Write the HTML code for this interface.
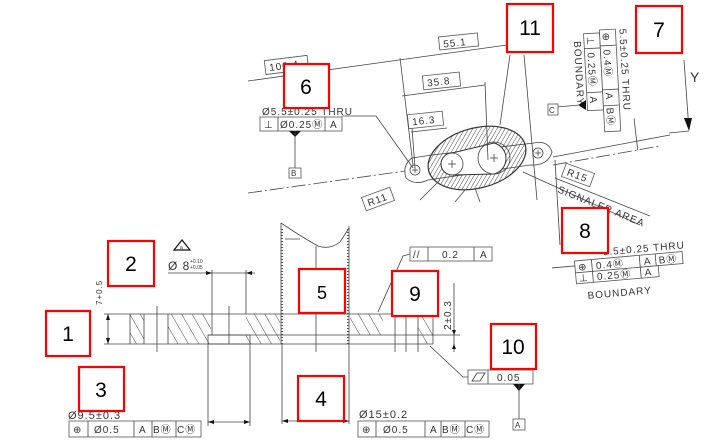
<!DOCTYPE html>
<html><head><meta charset="utf-8">
<style>
html,body{margin:0;padding:0;background:#fff;}
svg{display:block;}
text{font-family:"Liberation Sans",sans-serif;fill:#333;}
.t{font-size:10px;letter-spacing:1px;}
.ln{stroke:#444;stroke-width:0.8;fill:none;}
.fc{stroke:#555;stroke-width:0.8;fill:#fff;}
.rb{stroke:#f00;stroke-width:2.2;fill:#fff;}
.num{font-size:21px;fill:#000;text-anchor:middle;}
</style></head>
<body>
<svg width="720" height="448" viewBox="0 0 720 448" xmlns="http://www.w3.org/2000/svg">
<defs>
<pattern id="hatch" patternUnits="userSpaceOnUse" width="9" height="9" patternTransform="rotate(-30)">
<line x1="0" y1="0" x2="0" y2="9" stroke="#333" stroke-width="0.9"/>
</pattern>
<pattern id="hatch2" patternUnits="userSpaceOnUse" width="3.5" height="3.5" patternTransform="rotate(45)">
<line x1="0" y1="0" x2="0" y2="3.5" stroke="#333" stroke-width="0.9"/>
</pattern>
</defs>

<g>
<line class="ln" x1="248" y1="81" x2="507" y2="45"/>
<line class="ln" x1="553" y1="157" x2="670" y2="135"/>
<line class="ln" x1="553" y1="165" x2="660" y2="146" stroke-dasharray="14 3 2 3"/>
<line class="ln" x1="248" y1="193" x2="405" y2="171" stroke-dasharray="14 3 2 3"/>
<path class="ln" d="M412,158 Q402,165 406,178 Q415,186 428,180 L530,165 Q548,166 552,152 Q548,140 534,143 L432,155 Z"/>
<ellipse cx="477" cy="158" rx="50" ry="30" transform="rotate(-15 477 158)" fill="url(#hatch2)" stroke="#333" stroke-width="1.2"/>
<path d="M452,153 L494,143 A16,16 0 0 1 494,174 L452,175 A11,11 0 0 1 452,153 Z" fill="#fff" stroke="#333" stroke-width="1"/>
<circle cx="452" cy="164" r="11" class="ln" stroke-width="1.1"/>
<circle cx="494" cy="158" r="16" class="ln" stroke-width="1.1"/>
<circle cx="415" cy="170" r="5" class="ln"/>
<circle cx="538" cy="153" r="5" class="ln"/>
<line class="ln" x1="448" y1="164" x2="456" y2="164"/><line class="ln" x1="452" y1="160" x2="452" y2="168"/>
<line class="ln" x1="490" y1="158" x2="498" y2="158"/><line class="ln" x1="494" y1="154" x2="494" y2="162"/>
<line class="ln" x1="412" y1="170" x2="418" y2="170"/><line class="ln" x1="415" y1="167" x2="415" y2="173"/>
<line class="ln" x1="535" y1="153" x2="541" y2="153"/><line class="ln" x1="538" y1="150" x2="538" y2="156"/>
<line class="ln" x1="400" y1="58" x2="413" y2="165"/>
<line class="ln" x1="485" y1="82" x2="488" y2="160"/>
<line class="ln" x1="412" y1="128" x2="415" y2="168"/>
<line class="ln" x1="402" y1="96" x2="485" y2="85"/>
<line class="ln" x1="411" y1="132" x2="447" y2="128"/>
<line class="ln" x1="524" y1="55" x2="537" y2="200"/>
<line class="ln" x1="510" y1="55" x2="500" y2="125"/>
<line class="ln" x1="555" y1="160" x2="560" y2="245"/>
<line class="ln" x1="523" y1="172" x2="640" y2="225"/>
<line class="ln" x1="440" y1="180" x2="420" y2="200"/>
<line class="ln" x1="465" y1="190" x2="455" y2="202"/>
<line class="ln" x1="475" y1="188" x2="480" y2="202"/>
<rect class="fc" x="439" y="35" width="39" height="13" transform="rotate(-6 458 41)"/>
<text class="t" x="443" y="46" transform="rotate(-6 458 41)">55.1</text>
<rect class="fc" x="423" y="74" width="37" height="14" transform="rotate(-6 441 81)"/>
<text class="t" x="427" y="85" transform="rotate(-6 441 81)">35.8</text>
<rect class="fc" x="408" y="113" width="35" height="14" transform="rotate(-6 425 120)"/>
<text class="t" x="412" y="124" transform="rotate(-6 425 120)">16.3</text>
<rect class="fc" x="265" y="58" width="43" height="14" transform="rotate(-7 286 65)"/>
<text class="t" x="269" y="69" transform="rotate(-7 286 65)">100.4</text>
<rect class="fc" x="363" y="192" width="30" height="14" transform="rotate(-20 378 199)"/>
<text class="t" x="367" y="203" transform="rotate(-20 378 199)">R11</text>
<rect class="fc" x="563" y="168" width="30" height="14" transform="rotate(20 578 175)"/>
<text class="t" x="567" y="179" transform="rotate(20 578 175)">R15</text>
<text class="t" x="557" y="192" transform="rotate(22 557 192)">SIGNALER AREA</text>
<line class="ln" x1="555" y1="178" x2="650" y2="216"/>
</g>

<g>
<text class="t" x="262" y="115">Ø5.5±0.25 THRU</text>
<polyline class="ln" points="342,116 376,116 413,168"/>
<rect class="fc" x="260" y="117" width="82" height="14"/>
<line class="ln" x1="278" y1="117" x2="278" y2="131"/><line class="ln" x1="325" y1="117" x2="325" y2="131"/>
<text class="t" x="264" y="128">⊥</text><text class="t" x="280" y="128">Ø0.25Ⓜ</text><text class="t" x="330" y="128">A</text>
<polygon points="289,131 301,131 295,137" fill="#111"/>
<line class="ln" x1="295" y1="131" x2="295" y2="168"/>
<rect class="fc" x="289" y="168" width="12" height="10"/><text class="t" x="291" y="176" style="font-size:8px">B</text>
</g>

<g transform="rotate(-3 600 80)">
<rect class="fc" x="586" y="33" width="16" height="77"/>
<rect class="fc" x="602" y="30" width="16" height="102"/>
<line class="ln" x1="586" y1="48" x2="602" y2="48"/><line class="ln" x1="586" y1="92" x2="602" y2="92"/>
<line class="ln" x1="602" y1="46" x2="618" y2="46"/><line class="ln" x1="602" y1="90" x2="618" y2="90"/><line class="ln" x1="602" y1="106" x2="618" y2="106"/>
<text class="t" transform="translate(589,36) rotate(90)">⊥</text>
<text class="t" transform="translate(589,52) rotate(90)">0.25Ⓜ</text>
<text class="t" transform="translate(589,96) rotate(90)">A</text>
<text class="t" transform="translate(605,33) rotate(90)">⊕</text>
<text class="t" transform="translate(605,50) rotate(90)">0.4Ⓜ</text>
<text class="t" transform="translate(605,93) rotate(90)">A</text>
<text class="t" transform="translate(605,108) rotate(90)">BⓂ</text>
<text class="t" transform="translate(622,30) rotate(90)">5.5±0.25 THRU</text>
<text class="t" transform="translate(576,40) rotate(90)">BOUNDARY</text>
<line class="ln" x1="632" y1="120" x2="634" y2="152"/>
</g>
<polygon points="586,100 586,110 578,105" fill="#111"/>
<line class="ln" x1="556" y1="107" x2="580" y2="105"/>
<rect class="fc" x="548" y="104" width="10" height="11"/><text class="t" x="549" y="113" style="font-size:8px">C</text>
<g>
<line class="ln" x1="684" y1="60" x2="689" y2="130"/>
<polygon points="684,118 692,118 689,131" fill="#111"/>
<line class="ln" x1="669" y1="133" x2="689" y2="131"/>
<text x="690" y="82" style="font-size:14px">Y</text>
</g>

<g transform="rotate(-5 620 265)">
<text class="t" x="604" y="254">5.5±0.25 THRU</text>
<rect class="fc" x="575" y="257" width="108" height="12"/>
<rect class="fc" x="575" y="269" width="83" height="11"/>
<line class="ln" x1="592" y1="257" x2="592" y2="280"/><line class="ln" x1="640" y1="257" x2="640" y2="280"/><line class="ln" x1="656" y1="257" x2="656" y2="269"/>
<text class="t" x="578" y="267">⊕</text><text class="t" x="596" y="267">0.4Ⓜ</text><text class="t" x="644" y="267">A</text><text class="t" x="659" y="267">BⓂ</text>
<text class="t" x="578" y="278">⊥</text><text class="t" x="596" y="278">0.25Ⓜ</text><text class="t" x="644" y="278">A</text>
<text class="t" x="585" y="296">BOUNDARY</text>
<line class="ln" x1="552" y1="262" x2="575" y2="262"/>
</g>

<g>
<rect x="130" y="314" width="14" height="30" fill="url(#hatch)"/>
<rect x="168" y="314" width="43" height="30" fill="url(#hatch)"/>
<rect x="246" y="314" width="34" height="30" fill="url(#hatch)"/>
<rect x="350" y="314" width="33" height="21" fill="url(#hatch)"/>
<rect x="418" y="314" width="15" height="30" fill="url(#hatch)"/>
<line class="ln" x1="104" y1="314" x2="433" y2="314"/>
<line class="ln" x1="104" y1="344" x2="433" y2="344"/>
<line class="ln" x1="208" y1="335" x2="460" y2="335"/>
<line class="ln" x1="130" y1="314" x2="130" y2="344"/>
<line class="ln" x1="144" y1="314" x2="144" y2="344"/>
<line class="ln" x1="168" y1="314" x2="168" y2="344"/>
<line class="ln" x1="433" y1="314" x2="433" y2="344"/>
<rect class="ln" x="208" y="335" width="42" height="9" fill="#fff"/>
<line class="ln" x1="157" y1="306" x2="157" y2="352"/>
<line class="ln" x1="229" y1="306" x2="229" y2="344"/>
<line class="ln" x1="212" y1="270" x2="212" y2="335"/>
<line class="ln" x1="246" y1="270" x2="246" y2="314"/>
<line class="ln" x1="208" y1="344" x2="208" y2="426"/>
<line class="ln" x1="250" y1="344" x2="250" y2="426"/>
<path class="ln" d="M281,223 L281,344 M349,226 L349,344 M285,239 L300,239" />
<path class="ln" d="M281,223 Q300,236 318,246 Q330,250 340,242 L349,228"/>
<line x1="282" y1="229" x2="282" y2="344" stroke="#555" stroke-width="2" stroke-dasharray="1 2"/>
<line x1="348" y1="229" x2="348" y2="344" stroke="#555" stroke-width="2" stroke-dasharray="1 2"/>
<line class="ln" x1="316" y1="246" x2="316" y2="352"/>
<line class="ln" x1="282" y1="344" x2="282" y2="424"/>
<line class="ln" x1="349" y1="344" x2="349" y2="424"/>
<line class="ln" x1="395" y1="314" x2="395" y2="352"/>
<line class="ln" x1="406" y1="314" x2="406" y2="352"/>
<line class="ln" x1="418" y1="314" x2="418" y2="352"/>
<line class="ln" x1="168" y1="273" x2="255" y2="273"/>
<polygon points="212,273 206,271 206,275" fill="#111"/><polygon points="246,273 252,271 252,275" fill="#111"/>
<text class="t" x="168" y="270" style="font-size:12px">Ø 8</text>
<text x="190" y="263" style="font-size:5px">+0.10</text><text x="190" y="269" style="font-size:5px">+0.05</text>
<polygon points="174,250 182,240 190,250" fill="#fff" stroke="#111" stroke-width="1.2"/>
<text x="180" y="249" style="font-size:5px">a</text>
<line class="ln" x1="108" y1="314" x2="108" y2="344"/>
<polygon points="108,314 106,320 110,320" fill="#111"/><polygon points="108,344 106,338 110,338" fill="#111"/>
<text class="t" transform="translate(102,305) rotate(-90)" style="font-size:8px">7+0.5</text>
<line class="ln" x1="208" y1="422" x2="250" y2="422"/>
<polygon points="208,422 214,420 214,424" fill="#111"/><polygon points="250,422 244,420 244,424" fill="#111"/>
<line class="ln" x1="282" y1="421" x2="349" y2="421"/>
<polygon points="282,421 288,419 288,423" fill="#111"/><polygon points="349,421 343,419 343,423" fill="#111"/>
<line class="ln" x1="454" y1="283" x2="454" y2="352"/>
<polygon points="454,335 452,330 456,330" fill="#111"/><polygon points="454,344 452,349 456,349" fill="#111"/>
<text class="t" transform="translate(451,330) rotate(-90)">2±0.3</text>
</g>

<g>
<text class="t" x="68" y="419" style="font-size:11px">Ø9.5±0.3</text>
<rect class="fc" x="69" y="421" width="132" height="16"/>
<line class="ln" x1="88" y1="421" x2="88" y2="437"/><line class="ln" x1="134" y1="421" x2="134" y2="437"/><line class="ln" x1="152" y1="421" x2="152" y2="437"/><line class="ln" x1="176" y1="421" x2="176" y2="437"/>
<text class="t" x="73" y="433">⊕</text><text class="t" x="94" y="433">Ø0.5</text><text class="t" x="139" y="433">A</text><text class="t" x="153" y="433">BⓂ</text><text class="t" x="177" y="433">CⓂ</text>
</g>
<g>
<text class="t" x="359" y="418" style="font-size:11px">Ø15±0.2</text>
<rect class="fc" x="358" y="421" width="131" height="16"/>
<line class="ln" x1="376" y1="421" x2="376" y2="437"/><line class="ln" x1="425" y1="421" x2="425" y2="437"/><line class="ln" x1="441" y1="421" x2="441" y2="437"/><line class="ln" x1="465" y1="421" x2="465" y2="437"/>
<text class="t" x="362" y="433">⊕</text><text class="t" x="383" y="433">Ø0.5</text><text class="t" x="430" y="433">A</text><text class="t" x="442" y="433">BⓂ</text><text class="t" x="466" y="433">CⓂ</text>
</g>
<g>
<polyline class="ln" points="410,254 403,256 378,312"/>
<rect class="fc" x="410" y="247" width="82" height="14"/>
<line class="ln" x1="428" y1="247" x2="428" y2="261"/><line class="ln" x1="474" y1="247" x2="474" y2="261"/>
<text class="t" x="413" y="258">//</text><text class="t" x="442" y="258">0.2</text><text class="t" x="480" y="258">A</text>
</g>
<g>
<polyline class="ln" points="468,377 463,377 430,346"/>
<rect class="fc" x="468" y="370" width="65" height="14"/>
<line class="ln" x1="488" y1="370" x2="488" y2="384"/>
<polygon points="472,381 477,373 485,373 480,381" fill="none" stroke="#333" stroke-width="0.8"/>
<text class="t" x="497" y="381">0.05</text>
<polygon points="513,384 525,384 519,391" fill="#111"/>
<line class="ln" x1="519" y1="384" x2="519" y2="419"/>
<rect class="fc" x="513" y="419" width="12" height="11"/><text class="t" x="515" y="428" style="font-size:8px">A</text>
</g>

<g><rect class="rb" x="46" y="311" width="44" height="45"/><text class="num" x="68" y="341">1</text></g>
<g><rect class="rb" x="108" y="241" width="46" height="45"/><text class="num" x="131" y="271">2</text></g>
<g><rect class="rb" x="79" y="367" width="45" height="44"/><text class="num" x="101" y="397">3</text></g>
<g><rect class="rb" x="298" y="376" width="46" height="45"/><text class="num" x="321" y="406">4</text></g>
<g><rect class="rb" x="299" y="269" width="46" height="44"/><text class="num" x="322" y="299" style="font-size:18px">5</text></g>
<g><rect class="rb" x="284" y="64" width="45" height="44"/><text class="num" x="306" y="94">6</text></g>
<g><rect class="rb" x="636" y="6" width="46" height="47"/><text class="num" x="659" y="37">7</text></g>
<g><rect class="rb" x="562" y="208" width="46" height="45"/><text class="num" x="585" y="238">8</text></g>
<g><rect class="rb" x="392" y="271" width="46" height="45"/><text class="num" x="415" y="301">9</text></g>
<g><rect class="rb" x="491" y="324" width="45" height="45"/><text class="num" x="513" y="354">10</text></g>
<g><rect class="rb" x="507" y="4" width="46" height="48"/><text class="num" x="530" y="35">11</text></g>
</svg>
</body></html>
